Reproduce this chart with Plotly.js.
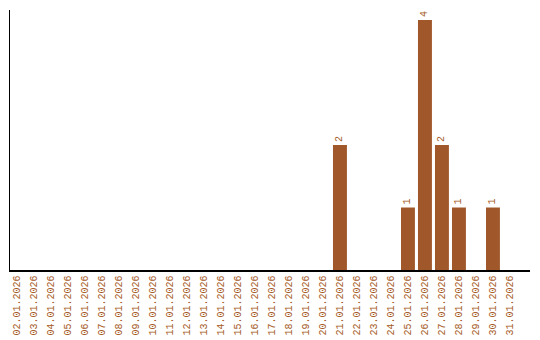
<!DOCTYPE html>
<html>
<head>
<meta charset="utf-8">
<script src="https://cdn.plot.ly/plotly-3.0.1.min.js"></script>
<style>html,body{margin:0;padding:0;background:#fff}#chart{width:540px;height:340px}</style>
</head>
<body>
<div id="chart"></div>
<script>
const dates = ["02.01.2026","03.01.2026","04.01.2026","05.01.2026","06.01.2026","07.01.2026","08.01.2026","09.01.2026","10.01.2026","11.01.2026","12.01.2026","13.01.2026","14.01.2026","15.01.2026","16.01.2026","17.01.2026","18.01.2026","19.01.2026","20.01.2026","21.01.2026","22.01.2026","23.01.2026","24.01.2026","25.01.2026","26.01.2026","27.01.2026","28.01.2026","29.01.2026","30.01.2026","31.01.2026"];
const counts = [0,0,0,0,0,0,0,0,0,0,0,0,0,0,0,0,0,0,0,2,0,0,0,1,4,2,1,0,1,0];
const labels = counts.map(v => v > 0 ? String(v) : "");
const barColor = "#a0572a";
const textColor = "#a65a26";

Plotly.newPlot("chart", [{
  type: "bar",
  x: dates,
  y: counts,
  text: labels,
  textposition: "outside",
  textangle: -90,
  cliponaxis: false,
  textfont: {family: "Liberation Mono, monospace", size: 10, color: textColor},
  marker: {color: barColor},
  width: 0.82,
  hoverinfo: "none"
}], {
  width: 540, height: 340,
  margin: {l: 10, r: 10, t: 10, b: 70},
  paper_bgcolor: "#fff", plot_bgcolor: "#fff",
  showlegend: false,
  xaxis: {
    type: "category",
    range: [-0.41, 30.18],
    tickangle: -90,
    tickfont: {family: "Liberation Mono, monospace", size: 10, color: textColor},
    showline: true, linecolor: "#000", linewidth: 1.5,
    showgrid: false, zeroline: false, ticks: "",
    fixedrange: true
  },
  yaxis: {
    range: [0, 4.16],
    showline: true, linecolor: "#000", linewidth: 1.5,
    showgrid: false, zeroline: false, ticks: "", showticklabels: false,
    fixedrange: true
  }
}, {staticPlot: true});
</script>
</body>
</html>
